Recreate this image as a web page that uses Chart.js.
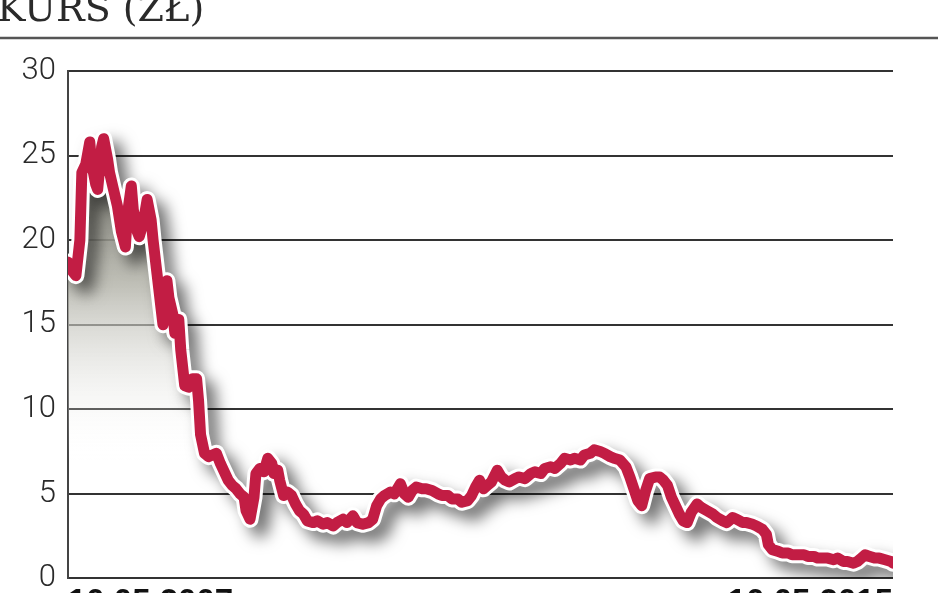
<!DOCTYPE html>
<html>
<head>
<meta charset="utf-8">
<script src="https://cdn.jsdelivr.net/npm/chart.js@4"></script>
<style>
  html, body { margin: 0; padding: 0; background: #fff; overflow: hidden; }
  #wrap { width: 948px; height: 609px; }
</style>
</head>
<body>
<div id="wrap"><canvas id="kursChart"></canvas></div>
<script>
const titleText = "KURS (ZŁ)";
const xTickLabels = ["10.05.2007", "10.05.2015"];
const yTicks = [0, 5, 10, 15, 20, 25, 30];

// weeks since 10.05.2007
const weeks = [
  0, 2, 4, 6, 7, 9, 11, 12, 14, 15, 17, 18, 20, 21, 23, 25, 27, 29, 30, 32,
  33, 35, 36, 38, 40, 42, 43, 45, 47, 48, 50, 51, 53, 54, 56, 57, 59, 61, 63, 65,
  66, 67, 69, 71, 73, 75, 77, 79, 81, 83, 85, 87, 89, 90, 92, 94, 95, 97, 99, 101,
  103, 104, 106, 107, 109, 111, 113, 115, 117, 119, 121, 124, 126, 129, 131, 134, 136, 139, 141, 144,
  146, 149, 152, 154, 156, 158, 160, 163, 165, 168, 170, 172, 174, 176, 179, 181, 184, 187, 189, 192,
  194, 197, 199, 202, 204, 206, 208, 210, 212, 214, 217, 219, 221, 223, 226, 228, 231, 234, 236, 239,
  241, 244, 246, 249, 251, 254, 256, 259, 261, 264, 266, 269, 271, 274, 276, 279, 282, 284, 286, 288,
  290, 292, 294, 297, 299, 301, 303, 305, 307, 309, 311, 313, 315, 318, 320, 323, 326, 328, 331, 333,
  336, 338, 341, 343, 346, 348, 351, 353, 354, 356, 359, 361, 364, 366, 369, 372, 374, 377, 379, 382,
  384, 387, 389, 392, 394, 397, 399, 401, 403, 405, 408, 410, 413, 416, 417
];
const kurs = [
  18.7, 18.2, 17.9, 20.0, 24.0, 24.5, 25.8, 24.5, 23.3, 23.0, 25.5, 26.0, 24.8, 24.0, 23.0, 22.0, 20.5, 19.6, 21.5, 23.2,
  21.8, 20.5, 20.2, 21.0, 22.4, 21.2, 20.0, 18.0, 16.0, 15.0, 17.6, 16.6, 15.6, 14.5, 15.3, 13.5, 11.4, 11.3, 11.8, 11.8,
  10.5, 8.5, 7.4, 7.2, 7.3, 7.4, 6.8, 6.3, 5.8, 5.5, 5.3, 5.0, 4.8, 4.0, 3.5, 4.8, 6.2, 6.5, 6.3, 7.1,
  6.8, 6.2, 6.4, 5.8, 4.9, 5.1, 4.9, 4.4, 4.0, 3.8, 3.4, 3.3, 3.4, 3.2, 3.3, 3.1, 3.3, 3.5, 3.3, 3.7,
  3.3, 3.2, 3.3, 3.5, 4.3, 4.7, 4.9, 5.1, 5.0, 5.6, 5.0, 4.8, 5.2, 5.4, 5.3, 5.3, 5.2, 5.0, 4.9, 4.9,
  4.7, 4.7, 4.5, 4.6, 4.9, 5.4, 5.8, 5.3, 5.5, 5.7, 6.4, 6.0, 5.8, 5.7, 5.9, 6.0, 5.9, 6.2, 6.3, 6.2,
  6.5, 6.6, 6.5, 6.8, 7.1, 7.0, 7.1, 7.0, 7.3, 7.4, 7.6, 7.5, 7.4, 7.2, 7.1, 7.0, 6.6, 6.0, 5.3, 4.6,
  4.3, 5.2, 5.9, 6.0, 6.0, 5.8, 5.5, 4.8, 4.3, 3.8, 3.4, 3.3, 3.9, 4.4, 4.2, 4.0, 3.8, 3.6, 3.4, 3.3,
  3.6, 3.5, 3.3, 3.3, 3.2, 3.1, 2.9, 2.6, 2.0, 1.7, 1.6, 1.5, 1.5, 1.4, 1.4, 1.4, 1.3, 1.3, 1.2, 1.2,
  1.2, 1.1, 1.2, 1.0, 1.0, 0.9, 1.0, 1.2, 1.4, 1.3, 1.2, 1.2, 1.1, 1.0, 0.9
];

const points = weeks.map((w, i) => ({ x: w, y: kurs[i] }));

const shadowPlugin = {
  id: "lineShadow",
  beforeDatasetDraw(chart, args) {
    if (args.index !== 1) return;
    const ctx = chart.ctx;
    ctx.save();
    ctx.shadowColor = "rgba(0,0,0,0.55)";
    ctx.shadowBlur = 15;
    ctx.shadowOffsetX = 10;
    ctx.shadowOffsetY = 10;
  },
  afterDatasetDraw(chart, args) {
    if (args.index !== 1) return;
    chart.ctx.restore();
  }
};

const headerPlugin = {
  id: "header",
  afterDraw(chart) {
    const ctx = chart.ctx;
    ctx.save();
    ctx.fillStyle = "#2a2a2a";
    ctx.font = "38px 'DejaVu Serif', serif";
    ctx.textBaseline = "alphabetic";
    ctx.textAlign = "left";
    ctx.fillText(titleText, -3, 21);
    ctx.strokeStyle = "#555";
    ctx.lineWidth = 2.5;
    ctx.beginPath();
    ctx.moveTo(0, 38);
    ctx.lineTo(938, 38);
    ctx.stroke();
    ctx.restore();
  }
};

function fillGradient(context) {
  const area = context.chart.chartArea;
  if (!area) return "rgba(0,0,0,0)";
  const g = context.chart.ctx.createLinearGradient(0, 140, 0, 460);
  g.addColorStop(0, "rgba(105,105,95,0.95)");
  g.addColorStop(0.45, "rgba(180,180,170,0.85)");
  g.addColorStop(1, "rgba(255,255,255,0)");
  return g;
}

const ctx = document.getElementById("kursChart").getContext("2d");

new Chart(ctx, {
  type: "line",
  data: {
    datasets: [
      {
        data: points,
        borderColor: "#c21d44",
        borderWidth: 11,
        pointRadius: 0,
        tension: 0,
        borderJoinStyle: "round",
        borderCapStyle: "round",
        fill: false
      },
      {
        data: points,
        borderColor: "#ffffff",
        borderWidth: 17,
        pointRadius: 0,
        tension: 0,
        borderJoinStyle: "round",
        borderCapStyle: "round",
        fill: false
      },
      {
        data: points,
        borderWidth: 0,
        borderColor: "rgba(0,0,0,0)",
        pointRadius: 0,
        tension: 0,
        fill: "origin",
        backgroundColor: fillGradient
      }
    ]
  },
  options: {
    responsive: true,
    maintainAspectRatio: false,
    animation: false,
    layout: { padding: { left: 0, top: 71, right: 55, bottom: 0 } },
    plugins: {
      legend: { display: false },
      tooltip: { enabled: false }
    },
    scales: {
      x: {
        type: "linear",
        min: 0,
        max: 417,
        afterBuildTicks: s => { s.ticks = [{ value: 0 }, { value: 417 }]; },
        afterFit: s => { s.height = 15; },
        grid: { display: false, drawTicks: false },
        border: { display: false },
        ticks: {
          align: "inner",
          maxRotation: 0,
          padding: 5,
          color: "#111",
          font: { family: "'Liberation Sans', Arial, sans-serif", size: 33, weight: "bold" },
          callback: (v, i) => xTickLabels[i]
        }
      },
      y: {
        min: 0,
        max: 30,
        afterBuildTicks: s => { s.ticks = yTicks.map(v => ({ value: v })); },
        afterFit: s => { s.width = 68; },
        grid: { color: "#333", lineWidth: 2, drawTicks: false },
        border: { display: true, color: "#444", width: 2 },
        ticks: {
          padding: 12,
          color: "#2a2a2a",
          font: { family: "Roboto, sans-serif", size: 31, weight: 300 }
        }
      }
    }
  },
  plugins: [shadowPlugin, headerPlugin]
});
</script>
</body>
</html>
